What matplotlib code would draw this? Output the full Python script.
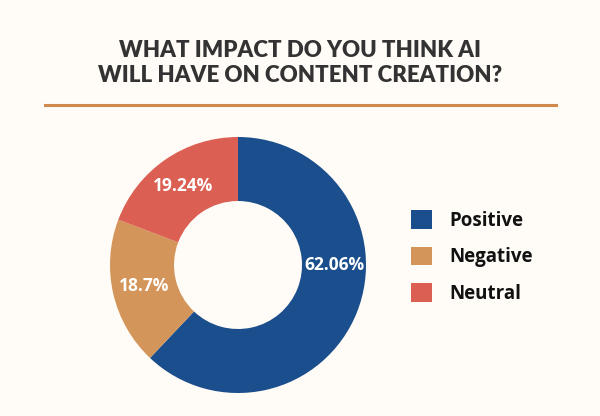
import matplotlib
matplotlib.use("Agg")
import matplotlib.pyplot as plt
from matplotlib.lines import Line2D

# data
categories = ["Positive", "Negative", "Neutral"]
values = [62.06, 18.7, 19.24]
colors = ["#1A4E8C", "#D4955A", "#DB5F52"]
title = "WHAT IMPACT DO YOU THINK AI\nWILL HAVE ON CONTENT CREATION?"

bg = "#FFFBF6"
fig = plt.figure(figsize=(6, 4.16), dpi=100, facecolor=bg)

# title and rule under it
fig.text(0.5, 1 - 63 / 416, title, ha="center", va="center", fontsize=16,
         fontfamily="Lato", fontweight="heavy", color="#333333", linespacing=1.25)
fig.add_artist(Line2D([45 / 600, 556 / 600], [1 - 105 / 416] * 2, color="#D08A4E", lw=2.2))

# donut
ax = fig.add_axes([110 / 600, 23 / 416, 256 / 600, 256 / 416])
ax.set_facecolor(bg)
pct_r = 0.75
wedges, _, autotexts = ax.pie(
    values, colors=colors, startangle=90, counterclock=False, radius=1,
    wedgeprops=dict(width=0.5, edgecolor="none"),
    autopct=lambda p: f"{round(p, 2):g}%", pctdistance=pct_r,
)
for t in autotexts:
    t.set_color("white")
    t.set_fontsize(12.5)
    t.set_fontweight("bold")
    t.set_fontfamily("Open Sans")
# the big slice's label sits level with the centre in the original
autotexts[0].set_position((pct_r, 0))
ax.set_xlim(-1, 1)
ax.set_ylim(-1, 1)
ax.set_aspect("equal")
ax.axis("off")

leg = fig.legend(wedges, categories, loc="center left", bbox_to_anchor=(394 / 600, 1 - 257 / 416),
                 frameon=False, handlelength=1.15, handleheight=1.15, labelspacing=0.85,
                 handletextpad=0.9, prop=dict(family="Open Sans", weight="bold", size=13.5))
for t in leg.get_texts():
    t.set_color("#111111")

fig.savefig("out.png", dpi=100, facecolor=bg)
